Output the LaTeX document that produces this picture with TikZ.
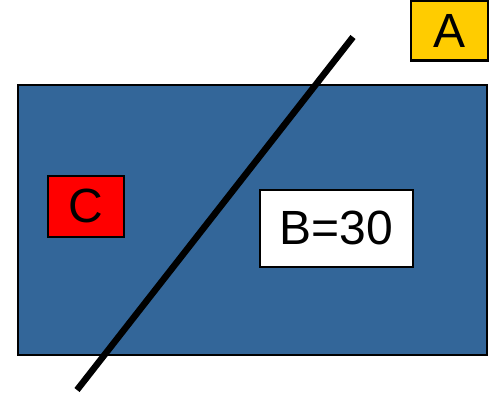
\documentclass[tikz,border=0pt]{standalone}
\usepackage{fontspec}
\setmainfont{Liberation Sans}
\usetikzlibrary{positioning}
\definecolor{Field}{RGB}{51,102,153}
\definecolor{Gold}{RGB}{255,204,0}
\definecolor{Alarm}{RGB}{255,0,0}
\tikzset{
  tbox/.style={rectangle,draw=black,line width=2pt,inner sep=0pt,
               font=\fontsize{48}{52}\selectfont},
  tarea/.style={tbox,fill=Field,minimum width=469pt,minimum height=270pt},
  tcut/.style={line width=6.5pt,black},
}
\begin{document}
\begin{tikzpicture}[x=1pt,y=-1pt]
  \useasboundingbox (0,0) rectangle (492,396);
  \node[tarea] (area) at (252.5,220) {};
  \node[tbox,fill=Gold,minimum width=77pt,minimum height=59pt] (a) at (449.5,31) {A};
  \node[tbox,fill=Alarm,minimum width=76pt,minimum height=61pt] (c) at (85.5,206) {C};
  \node[tbox,fill=white,minimum width=153pt,minimum height=77pt] (b) at (336,228) {B=30};
  %
  \coordinate (cutlo) at (77,390);
  \coordinate (cuthi) at (353,37);
  \draw[tcut] (cutlo) -- (cuthi);
\end{tikzpicture}
\end{document}
